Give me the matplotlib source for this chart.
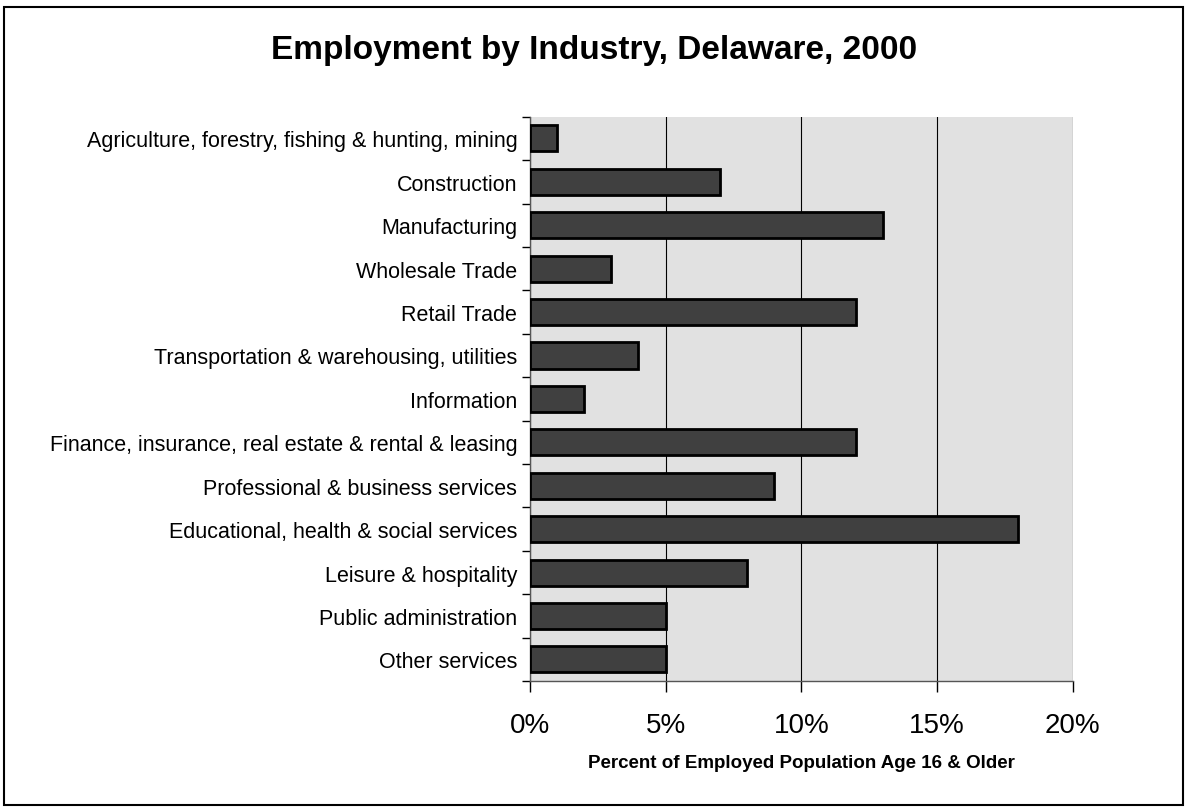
import matplotlib.pyplot as plt
from matplotlib.patches import Rectangle
from matplotlib.ticker import FuncFormatter

plt.rcParams['font.family'] = ['Liberation Sans', 'DejaVu Sans']

industries = [
    'Agriculture, forestry, fishing & hunting, mining',
    'Construction',
    'Manufacturing',
    'Wholesale Trade',
    'Retail Trade',
    'Transportation & warehousing, utilities',
    'Information',
    'Finance, insurance, real estate & rental & leasing',
    'Professional & business services',
    'Educational, health & social services',
    'Leisure & hospitality',
    'Public administration',
    'Other services',
]
percent = [1, 7, 13, 3, 12, 4, 2, 12, 9, 18, 8, 5, 5]
xticks = [0, 5, 10, 15, 20]

fig = plt.figure(figsize=(11.88, 8.12), dpi=100)
ax = fig.add_axes([0.446, 0.160, 0.457, 0.695])
ax.set_facecolor('#e1e1e1')

pos = list(range(len(industries)))
ax.barh(pos, percent, height=0.6, color='#404040', edgecolor='black', linewidth=2, zorder=3)

ax.set_ylim(len(industries) - 0.5, -0.5)
ax.set_xlim(0, 20)
ax.set_yticks(pos)
ax.set_yticklabels(industries, fontsize=15.5)
ax.set_yticks([p - 0.5 for p in pos] + [len(industries) - 0.5], minor=True)
ax.tick_params(axis='y', which='major', length=0, pad=9)
ax.tick_params(axis='y', which='minor', length=6, width=1, direction='out')
ax.set_xticks(xticks)
ax.xaxis.set_major_formatter(FuncFormatter(lambda v, _: f'{v:.0f}%'))
ax.tick_params(axis='x', length=8, width=1, direction='out', labelsize=20, pad=14)
ax.grid(axis='x', color='black', linewidth=0.8, zorder=1)

for side in ['top', 'right']:
    ax.spines[side].set_visible(False)
for side in ['left', 'bottom']:
    ax.spines[side].set_color('#555555')
    ax.spines[side].set_linewidth(1)

ax.set_xlabel('Percent of Employed Population Age 16 & Older', fontsize=13.5,
              fontweight='bold', labelpad=12)
fig.text(0.5, 0.938, 'Employment by Industry, Delaware, 2000', ha='center', va='center',
         fontsize=24, fontweight='bold')

fig.patches.append(Rectangle((4 / 1188, 1 - 806 / 812), 1179 / 1188, 798 / 812,
                             transform=fig.transFigure, fill=False,
                             edgecolor='black', linewidth=1.5))

fig.savefig('out.png', dpi=100)
